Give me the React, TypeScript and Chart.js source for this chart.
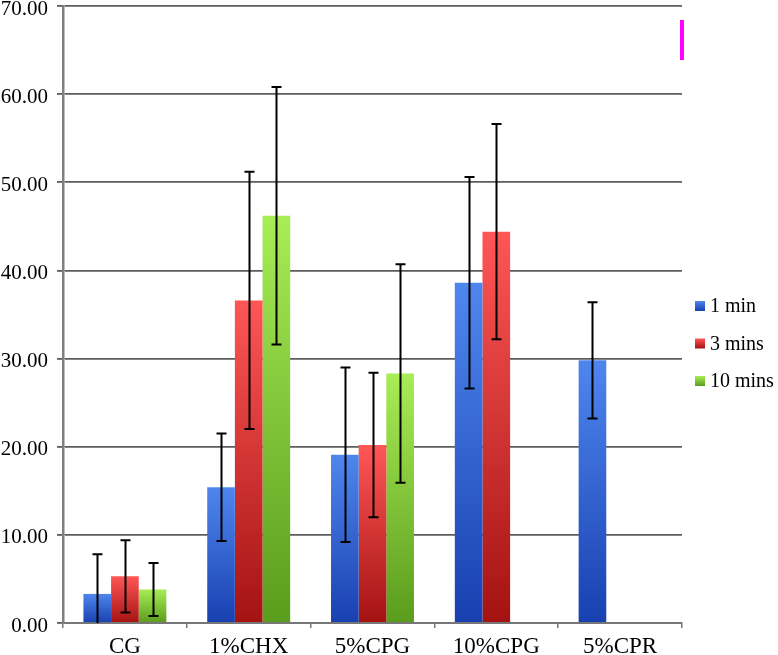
import React, { useEffect, useRef } from "react";
import { Chart, registerables } from "chart.js";

Chart.register(...registerables);

const categories = ["CG", "1%CHX", "5%CPG", "10%CPG", "5%CPR"];
const seriesLabels = ["1 min", "3 mins", "10 mins"];
const oneMin = [3.3, 15.4, 19.1, 38.6, 29.8];
const threeMins = [5.3, 36.6, 20.2, 44.4, null];
const tenMins = [3.8, 46.2, 28.3, null, null];
const oneMinErr = [4.5, 6.1, 9.9, 12.0, 6.6];
const threeMinsErr = [4.1, 14.6, 8.2, 12.2, null];
const tenMinsErr = [3.0, 14.6, 12.4, null, null];
const yTicks = [0, 10, 20, 30, 40, 50, 60, 70];

const topColors = ["#4f86ee", "#ff5656", "#a8ec56"];
const bottomColors = ["#1840b0", "#a41212", "#5a9c1c"];

const FONT = "'Liberation Serif', 'Times New Roman', serif";

function gradientFor(idx: number) {
  return (ctx: any) => {
    const chart = ctx.chart;
    if (!chart.chartArea || ctx.type !== "data") return topColors[idx];
    const v = ctx.raw;
    if (v == null) return "rgba(0,0,0,0)";
    const y = chart.scales.y;
    const top = y.getPixelForValue(v);
    const bottom = y.getPixelForValue(0);
    const g = chart.ctx.createLinearGradient(0, top, 0, bottom);
    g.addColorStop(0, topColors[idx]);
    g.addColorStop(1, bottomColors[idx]);
    return g;
  };
}

const errorBarPlugin = {
  id: "errorBars",
  afterDatasetsDraw(chart: any) {
    const ctx = chart.ctx;
    const y = chart.scales.y;
    const area = chart.chartArea;
    ctx.save();
    ctx.strokeStyle = "#000";
    ctx.lineWidth = 2;
    chart.data.datasets.forEach((ds: any, di: number) => {
      const meta = chart.getDatasetMeta(di);
      meta.data.forEach((bar: any, i: number) => {
        const v = ds.data[i];
        const e = ds.errors[i];
        if (v == null || e == null) return;
        const x = Math.round(bar.x) + 0.5;
        const yt = y.getPixelForValue(v + e);
        const ybRaw = y.getPixelForValue(v - e);
        const clipped = ybRaw > area.bottom;
        const yb = clipped ? area.bottom : ybRaw;
        ctx.beginPath();
        ctx.moveTo(x, yt);
        ctx.lineTo(x, yb);
        ctx.moveTo(x - 5, yt);
        ctx.lineTo(x + 5, yt);
        if (!clipped) {
          ctx.moveTo(x - 5, yb);
          ctx.lineTo(x + 5, yb);
        }
        ctx.stroke();
      });
    });
    ctx.restore();
  },
};

const legendPlugin = {
  id: "sideLegend",
  afterDraw(chart: any) {
    const ctx = chart.ctx;
    const area = chart.chartArea;
    ctx.save();
    // diagnostic marker at chart area right edge (top portion only)
    ctx.fillStyle = "rgba(255,0,255,1)";
    ctx.fillRect(area.right - 2, 20, 4, 40);
    ctx.font = `20px ${FONT}`;
    ctx.textBaseline = "middle";
    chart.data.datasets.forEach((ds: any, i: number) => {
      const yc = area.top + 300 + i * 37.5;
      const bx = 695;
      const g = ctx.createLinearGradient(0, yc - 5, 0, yc + 5);
      g.addColorStop(0, topColors[i]);
      g.addColorStop(1, bottomColors[i]);
      ctx.fillStyle = g;
      ctx.fillRect(bx, yc - 5, 10, 10);
      ctx.fillStyle = "#000";
      ctx.fillText(ds.label, bx + 15, yc + 1);
    });
    ctx.restore();
  },
};

export default function App() {
  const ref = useRef<HTMLCanvasElement>(null);
  useEffect(() => {
    if (!ref.current) return;
    const chart = new Chart(ref.current, {
      type: "bar",
      data: {
        labels: categories,
        datasets: [
          { label: seriesLabels[0], data: oneMin, errors: oneMinErr, backgroundColor: gradientFor(0) } as any,
          { label: seriesLabels[1], data: threeMins, errors: threeMinsErr, backgroundColor: gradientFor(1) } as any,
          { label: seriesLabels[2], data: tenMins, errors: tenMinsErr, backgroundColor: gradientFor(2) } as any,
        ],
      },
      options: {
        animation: false,
        responsive: false,
        layout: { padding: { left: 0, right: 96, top: 0, bottom: 0 } },
        datasets: { bar: { categoryPercentage: 0.67, barPercentage: 1, borderWidth: 0 } },
        plugins: { legend: { display: false }, tooltip: { enabled: false } },
        scales: {
          x: {
            grid: { display: true, drawOnChartArea: false, drawTicks: true, tickLength: 5, color: "#777", lineWidth: 1.5, offset: true },
            border: { display: true, color: "#777", width: 2 },
            ticks: { color: "#000", font: { family: FONT, size: 23 }, padding: 5 },
            afterFit: (s: any) => {
              s.height = 32;
              s.paddingLeft = 0;
              s.paddingRight = 0;
            },
          },
          y: {
            min: 0,
            max: 70,
            afterBuildTicks: (s: any) => {
              s.ticks = yTicks.map((v) => ({ value: v }));
            },
            grid: { color: "#5c5c5c", lineWidth: 1.8, tickLength: 6, drawTicks: true },
            border: { display: true, color: "#808080", width: 2.5 },
            ticks: {
              color: "#000",
              font: { family: FONT, size: 21 },
              padding: 9,
              labelOffset: 3,
              callback: (v: any) => Number(v).toFixed(2),
            },
            afterFit: (s: any) => {
              s.width = 63;
              s.paddingTop = 6;
              s.paddingBottom = 0;
            },
          },
        },
      },
      plugins: [errorBarPlugin, legendPlugin],
    });
    return () => chart.destroy();
  }, []);
  return (
    <div style={{ position: "fixed", left: 0, top: 0, width: 778, height: 655, background: "#fff" }}>
      <canvas ref={ref} width={778} height={655} style={{ display: "block" }} />
    </div>
  );
}
